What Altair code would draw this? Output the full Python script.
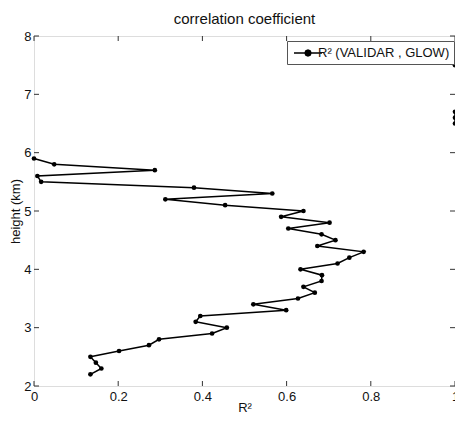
import altair as alt
import pandas as pd

# data
seg_a_h = [7.5]
seg_a_r2 = [1.0]
seg_b_h = [6.7, 6.6, 6.5]
seg_b_r2 = [1.0, 1.0, 1.0]
seg_c_h = [5.9, 5.8, 5.7, 5.6, 5.5, 5.4, 5.3, 5.2, 5.1, 5.0, 4.9, 4.8, 4.7, 4.6,
           4.5, 4.4, 4.3, 4.2, 4.1, 4.0, 3.9, 3.8, 3.7, 3.6, 3.5, 3.4, 3.3, 3.2,
           3.1, 3.0, 2.9, 2.8, 2.7, 2.6, 2.5, 2.4, 2.3, 2.2]
seg_c_r2 = [0.0, 0.048, 0.287, 0.008, 0.017, 0.380, 0.566, 0.312, 0.454, 0.640,
            0.587, 0.702, 0.604, 0.683, 0.716, 0.673, 0.783, 0.749, 0.721, 0.633,
            0.684, 0.683, 0.640, 0.667, 0.627, 0.521, 0.599, 0.395, 0.384, 0.458,
            0.423, 0.297, 0.273, 0.202, 0.134, 0.147, 0.160, 0.134]
series_name = "R² (VALIDAR , GLOW)"
x_ticks = [0, 0.2, 0.4, 0.6, 0.8, 1.0]
y_ticks = [2, 3, 4, 5, 6, 7, 8]

rows = []
idx = 0
for seg, hs, rs in (("a", seg_a_h, seg_a_r2), ("b", seg_b_h, seg_b_r2), ("c", seg_c_h, seg_c_r2)):
    for h, r in zip(hs, rs):
        rows.append({"seg": seg, "height": h, "r2": r, "idx": idx, "series": series_name})
        idx += 1
df = pd.DataFrame(rows)

W, H = 421, 350
AX = "#333333"
FONT = "Liberation Sans"

xs = alt.Scale(domain=[0, 1], nice=False)
ys = alt.Scale(domain=[2, 8], nice=False)

x_enc = alt.X("r2:Q", scale=xs, title="R²",
              axis=alt.Axis(values=x_ticks, format="~g", tickSize=0, domain=False, grid=False,
                            labelFlush=False, labelPadding=4,
                            titleY=25, titleBaseline="alphabetic",
                            labelFontSize=13, titleFontSize=13, titleFontWeight="normal",
                            labelColor="#111", titleColor="#111", labelFont=FONT, titleFont=FONT))
y_enc = alt.Y("height:Q", scale=ys, title="height (km)",
              axis=alt.Axis(values=y_ticks, format="d", tickSize=0, domain=False, grid=False,
                            labelPadding=3, titlePadding=1, labelFlush=False,
                            labelFontSize=13, titleFontSize=13, titleFontWeight="normal",
                            labelColor="#111", titleColor="#111", labelFont=FONT, titleFont=FONT))

line = alt.Chart(df).mark_line(color="black", strokeWidth=1.5).encode(
    x=x_enc, y=y_enc, detail="seg:N", order="idx:Q")

sym = ("M-2,0H2M0.43,0L0.3,0.3L0,0.43L-0.3,0.3L-0.43,0L-0.3,-0.3L0,-0.43L0.3,-0.3Z")
points = alt.Chart(df).mark_point(filled=True, size=22, opacity=1).encode(
    x=alt.X("r2:Q", scale=xs),
    y=alt.Y("height:Q", scale=ys),
    color=alt.Color("series:N", scale=alt.Scale(domain=[series_name], range=["black"]),
                    legend=alt.Legend(title=None, orient="none", legendX=W - 168, legendY=5,
                                      symbolType=sym, symbolSize=196,
                                      symbolStrokeColor="black", symbolFillColor="black",
                                      symbolStrokeWidth=1.5, symbolOffset=9, labelOffset=2,
                                      labelFontSize=13, labelFont=FONT, labelColor="#111",
                                      padding=4, strokeColor="#555", fillColor="white",
                                      labelLimit=300)))

xt = pd.DataFrame({"v": x_ticks})
yt = pd.DataFrame({"v": y_ticks})
tl = 5
xb = alt.Chart(xt).mark_rule(color=AX, strokeWidth=1).encode(
    x=alt.X("v:Q", scale=xs), y=alt.value(H), y2=alt.value(H - tl))
xtop = alt.Chart(xt).mark_rule(color=AX, strokeWidth=1).encode(
    x=alt.X("v:Q", scale=xs), y=alt.value(0), y2=alt.value(tl))
yl = alt.Chart(yt).mark_rule(color=AX, strokeWidth=1).encode(
    y=alt.Y("v:Q", scale=ys), x=alt.value(0), x2=alt.value(tl))
yr = alt.Chart(yt).mark_rule(color=AX, strokeWidth=1).encode(
    y=alt.Y("v:Q", scale=ys), x=alt.value(W - tl), x2=alt.value(W))

chart = alt.layer(xb, xtop, yl, yr, line, points).properties(
    width=W, height=H,
    title=alt.Title("correlation coefficient", fontSize=15, fontWeight="normal",
                    font=FONT, color="#111", offset=3),
    autosize=alt.AutoSizeParams(type="none"),
    padding={"left": 26, "top": 28, "right": 0, "bottom": 27},
).configure_view(stroke=AX, strokeWidth=1).configure(background="white")

chart.save("out.html", embed_options={"renderer": "svg", "actions": False})
